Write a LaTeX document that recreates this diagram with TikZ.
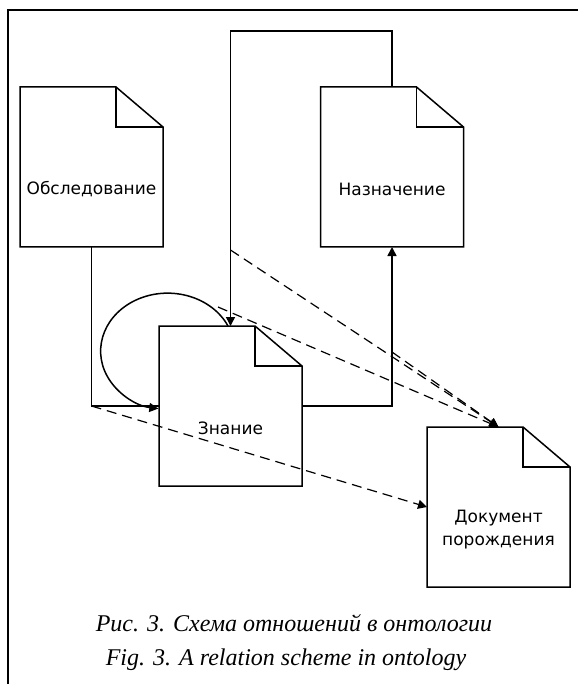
\documentclass[tikz,border=0pt]{standalone}
\usepackage{fontspec}
\setmainfont{Liberation Serif}
\newfontfamily\boxfont{DejaVu Sans}
\usetikzlibrary{arrows.meta}
\newcommand\docoutline[1]{%
  \draw[docline] (#1.north west) -- ([xshift=-47pt]#1.north east) -- ([yshift=-40pt]#1.north east) -- (#1.south east) -- (#1.south west) -- cycle;
  \draw[docline] ([xshift=-47pt]#1.north east) -- ([xshift=-47pt,yshift=-40pt]#1.north east) -- ([yshift=-40pt]#1.north east);}
\begin{document}
\begin{tikzpicture}[x=1pt,y=-1pt,
  docbox/.style={rectangle, draw=none, minimum width=143pt, minimum height=160pt, inner sep=0pt, outer sep=0pt},
  doctext/.style={font=\boxfont\fontsize{17}{23}\selectfont, align=center, inner sep=0pt},
  docline/.style={line width=1.5pt, line join=miter},
  conn/.style={line width=1.5pt},
  dconn/.style={line width=1.2pt, dash pattern=on 10pt off 6pt},
  tip/.style={-{Triangle[length=9pt,width=9pt]}},
  captext/.style={font=\itshape\fontsize{24}{28}\selectfont, inner sep=0pt}
]
\useasboundingbox (0,0) rectangle (578,684);
\draw[line width=1.3pt] (8,684) -- (8,10) -- (578,10);

\node[docbox, label={[doctext, yshift=-22pt]center:Обследование}] (obs) at (91.5,167) {};
\node[docbox, label={[doctext, yshift=-22pt]center:Назначение}] (naz) at (392,167) {};
\node[docbox, label={[doctext, yshift=-22pt]center:Знание}] (zna) at (230.5,406) {};
\node[docbox, label={[doctext, yshift=-23pt]center:{Документ\\порождения}}] (dok) at (498.5,507) {};
\docoutline{obs}
\docoutline{naz}
\docoutline{zna}
\docoutline{dok}

\coordinate (c1) at (obs.south |- zna.west);
\coordinate (da) at (230.5,250);
\coordinate (db) at (218,307);
\coordinate (dc) at (392,352);

\draw[conn] (obs.south) |- (zna.west);
\draw[conn,tip] (zna.east) -| (naz.south);
\draw[conn,tip] (naz.north) -- ++(0,-56) -| (zna.north);
\draw[conn,tip] ([xshift=-2.5pt]zna.north) arc[start angle=-25.7, end angle=-262, x radius=67, y radius=58];

\draw[dconn,tip] (da) -- (dok.north);
\draw[dconn,tip] (db) -- (dok.north);
\draw[dconn,tip] (dc) -- (dok.north);
\draw[dconn,tip] (c1) -- (dok.west);

\node[captext] (cap1) at (294,623) {Рис. 3. Схема отношений в онтологии};
\node[captext] (cap2) at (286,660) {Fig. 3. A relation scheme in ontology};
\end{tikzpicture}
\end{document}
